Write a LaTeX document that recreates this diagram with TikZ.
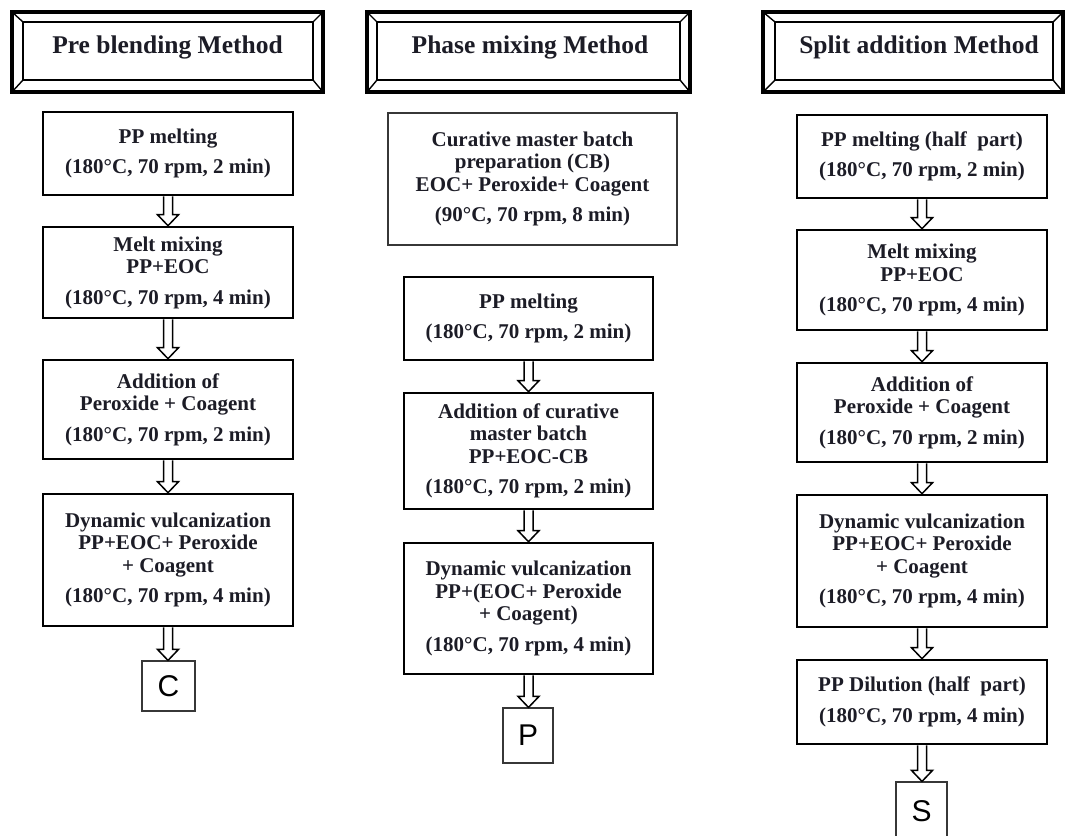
\documentclass[tikz,border=0pt]{standalone}
\usepackage{fontspec}
\setmainfont{Liberation Serif}
\newfontfamily\lsans{Liberation Sans}
\usetikzlibrary{calc}

\definecolor{txt}{RGB}{28,28,38}
\definecolor{thinline}{RGB}{55,55,55}

\tikzset{
  stepbox/.style={draw=black, line width=2.6pt, align=center, inner sep=0pt,
    text=txt, font=\fontsize{21}{22.5}\selectfont\bfseries},
  cbbox/.style={stepbox, draw=thinline, line width=1.7pt},
  letterbox/.style={draw=thinline, line width=1.2pt, inner sep=0pt, text=black,
    font=\lsans\fontsize{30}{30}\selectfont},
  outerframe/.style={draw=black, line width=4pt},
  innerframe/.style={draw=black, line width=2.6pt},
  bevel/.style={draw=black, line width=1.4pt},
  headtext/.style={text=txt, inner sep=0pt, font=\fontsize{25.5}{28}\selectfont\bfseries},
  harr/.style={draw=black, line width=1.5pt, fill=white, line join=miter}
}

% \flowbox[style]{name}{x1}{y1}{x2}{y2}{text}
\newcommand\flowbox[7][stepbox]{%
  \node[#1, minimum width={(#5-#3)*1pt}, minimum height={(#6-#4)*1pt}]
    (#2) at ({(#3+#5)/2},{(#4+#6)/2}) {#7};}

\newcommand\harrow[2]{%
  \draw[harr] let \p1=(#1.south), \p2=(#2.north) in
   (\x1-4.5pt,\y1) -- (\x1-4.5pt,\y2+11pt) -- (\x1-10.5pt,\y2+11pt) -- (\x1,\y2)
   -- (\x1+10.5pt,\y2+11pt) -- (\x1+4.5pt,\y2+11pt) -- (\x1+4.5pt,\y1);}

\newcommand\headframe[8]{%
  \draw[outerframe] (#1,#2) rectangle (#3,#4);
  \draw[innerframe] (#5,#6) rectangle (#7,#8);
  \draw[bevel] (#1,#2) -- (#5,#6) (#3,#2) -- (#7,#6) (#1,#4) -- (#5,#8) (#3,#4) -- (#7,#8);}

\begin{document}
\begin{tikzpicture}[x=1pt,y=-1pt]
\clip (0,0) rectangle (1065,835);
\fill[white] (0,0) rectangle (1065,835);

% ---- headers ----
\headframe{12}{12}{323}{92}{23}{22}{313}{80}
\node[headtext, anchor=base] (h1) at (167.5,53) {Pre blending Method};
\headframe{367}{12}{690}{92}{377}{22}{680}{80}
\node[headtext, anchor=base] (h2) at (530,53) {Phase mixing Method};
\headframe{763}{12}{1063}{92}{775}{22}{1053}{80}
\node[headtext, anchor=base] (h3) at (919,53) {Split addition Method};

% ---- column 1 ----
\flowbox{a1}{43}{112}{293}{195}{PP melting\\[8pt](180°C, 70 rpm, 2 min)}
\flowbox{a2}{43}{227}{293}{318}{Melt mixing\\PP+EOC\\[8pt](180°C, 70 rpm, 4 min)}
\flowbox{a3}{43}{360}{293}{459}{Addition of\\Peroxide + Coagent\\[8pt](180°C, 70 rpm, 2 min)}
\flowbox{a4}{43}{494}{293}{626}{Dynamic vulcanization\\PP+EOC+ Peroxide\\+ Coagent\\[8pt](180°C, 70 rpm, 4 min)}
\flowbox[letterbox]{ca}{142}{661}{195}{711}{C}

% ---- column 2 ----
\flowbox[cbbox]{b0}{388}{113}{677}{245}{Curative master batch\\preparation (CB)\\EOC+ Peroxide+ Coagent\\[8pt](90°C, 70 rpm, 8 min)}
\flowbox{b1}{404}{277}{653}{360}{PP melting\\[8pt](180°C, 70 rpm, 2 min)}
\flowbox{b2}{404}{393}{653}{509}{Addition of curative\\master batch\\PP+EOC-CB\\[8pt](180°C, 70 rpm, 2 min)}
\flowbox{b3}{404}{543}{653}{674}{Dynamic vulcanization\\PP+(EOC+ Peroxide\\+ Coagent)\\[8pt](180°C, 70 rpm, 4 min)}
\flowbox[letterbox]{pb}{503}{708}{553}{763}{P}

% ---- column 3 ----
\flowbox{c1}{797}{115}{1047}{198}{PP melting (half~ part)\\[8pt](180°C, 70 rpm, 2 min)}
\flowbox{c2}{797}{230}{1047}{330}{Melt mixing\\PP+EOC\\[8pt](180°C, 70 rpm, 4 min)}
\flowbox{c3}{797}{363}{1047}{462}{Addition of\\Peroxide + Coagent\\[8pt](180°C, 70 rpm, 2 min)}
\flowbox{c4}{797}{495}{1047}{627}{Dynamic vulcanization\\PP+EOC+ Peroxide\\+ Coagent\\[8pt](180°C, 70 rpm, 4 min)}
\flowbox{c5}{797}{660}{1047}{744}{PP Dilution (half~ part)\\[8pt](180°C, 70 rpm, 4 min)}
\flowbox[letterbox]{sb}{896}{782}{947}{840}{S}

% ---- arrows ----
\harrow{a1}{a2}
\harrow{a2}{a3}
\harrow{a3}{a4}
\harrow{a4}{ca}
\harrow{b1}{b2}
\harrow{b2}{b3}
\harrow{b3}{pb}
\harrow{c1}{c2}
\harrow{c2}{c3}
\harrow{c3}{c4}
\harrow{c4}{c5}
\harrow{c5}{sb}
\end{tikzpicture}
\end{document}
